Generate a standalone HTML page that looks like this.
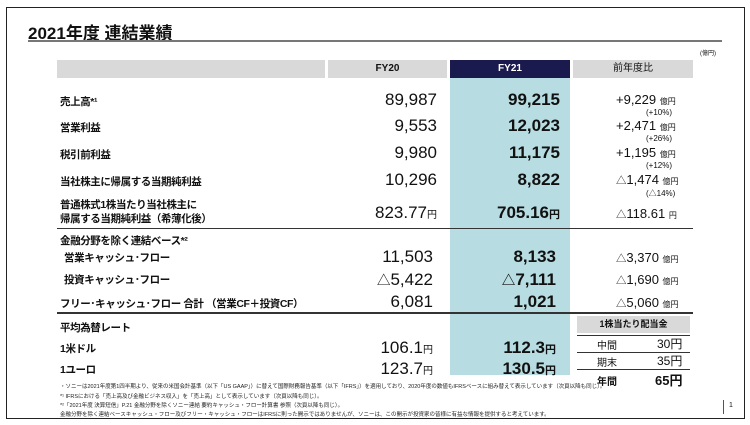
<!DOCTYPE html>
<html><head><meta charset="utf-8"><style>
body{margin:0;width:750px;height:425px;background:#fff;font-family:"Liberation Sans","Noto Sans CJK JP",sans-serif;position:relative;overflow:hidden;color:#111}
.a{position:absolute;white-space:nowrap}
.l{font-size:10.5px;font-weight:bold;left:60px;letter-spacing:-0.4px}
.v{font-size:17px;text-align:right}
.b{font-weight:bold}
.u{font-size:8px}
.t{font-size:0.8em}
.fn{font-size:5.5px;left:60px;color:#222}
</style></head><body>
<div class="a" style="left:6px;top:7px;width:737px;height:410px;border:1.5px solid #222"></div>
<div class="a" style="left:28px;top:19px;font-size:17px;font-weight:bold">2021年度 連結業績</div>
<div class="a" style="left:28px;top:40px;width:694px;height:2px;background:#777"></div>
<div class="a" style="left:700px;top:48px;font-size:6px">(億円)</div>
<div class="a" style="left:57px;top:60px;width:268px;height:18px;background:#d9d9d9"></div>
<div class="a" style="left:328px;top:60px;width:119px;height:18px;background:#d9d9d9;font-size:10px;font-weight:bold;text-align:center;line-height:18px">FY20</div>
<div class="a" style="left:450px;top:60px;width:120px;height:18px;background:#1b1a4e;color:#fff;font-size:10px;font-weight:bold;text-align:center;line-height:18px">FY21</div>
<div class="a" style="left:573px;top:60px;width:120px;height:18px;background:#d9d9d9;font-size:10px;text-align:center;line-height:18px">前年度比</div>
<div class="a" style="left:450px;top:78px;width:120px;height:297px;background:#b7dce1"></div>
<div class="a" style="left:57px;top:228px;width:636px;height:1px;background:#333"></div>
<div class="a" style="left:57px;top:312px;width:636px;height:1.5px;background:#333"></div>

<div class="a l" style="top:94px">売上高*¹</div>
<div class="a l" style="top:120px">営業利益</div>
<div class="a l" style="top:147px">税引前利益</div>
<div class="a l" style="top:174px">当社株主に帰属する当期純利益</div>
<div class="a l" style="top:198px;line-height:14px">普通株式1株当たり当社株主に<br>帰属する当期純利益（希薄化後）</div>
<div class="a l" style="top:233px">金融分野を除く連結ベース*²</div>
<div class="a l" style="top:250px;left:64px">営業キャッシュ･フロー</div>
<div class="a l" style="top:272px;left:64px">投資キャッシュ･フロー</div>
<div class="a l" style="top:296px">フリー･キャッシュ･フロー 合計 （営業CF＋投資CF）</div>
<div class="a l" style="top:320px">平均為替レート</div>
<div class="a l" style="top:341px">1米ドル</div>
<div class="a l" style="top:362px">1ユーロ</div>

<div class="a v" style="right:313px;top:90px">89,987</div>
<div class="a v b" style="right:190px;top:90px">99,215</div>
<div class="a v" style="right:313px;top:116px">9,553</div>
<div class="a v b" style="right:190px;top:116px">12,023</div>
<div class="a v" style="right:313px;top:143px">9,980</div>
<div class="a v b" style="right:190px;top:143px">11,175</div>
<div class="a v" style="right:313px;top:170px">10,296</div>
<div class="a v b" style="right:190px;top:170px">8,822</div>
<div class="a v" style="right:313px;top:203px">823.77<span style="font-size:10px">円</span></div>
<div class="a v b" style="right:190px;top:203px">705.16<span style="font-size:11px">円</span></div>
<div class="a v" style="right:317px;top:247px">11,503</div>
<div class="a v b" style="right:194px;top:247px">8,133</div>
<div class="a v" style="right:317px;top:269px"><span class="t">△</span>5,422</div>
<div class="a v b" style="right:194px;top:269px"><span class="t">△</span>7,111</div>
<div class="a v" style="right:317px;top:292px">6,081</div>
<div class="a v b" style="right:194px;top:292px">1,021</div>
<div class="a v" style="right:317px;top:338px">106.1<span style="font-size:10px">円</span></div>
<div class="a v b" style="right:194px;top:338px">112.3<span style="font-size:11px">円</span></div>
<div class="a v" style="right:317px;top:359px">123.7<span style="font-size:10px">円</span></div>
<div class="a v b" style="right:194px;top:359px">130.5<span style="font-size:11px">円</span></div>

<div class="a" style="left:616px;top:92px;font-size:13px">+9,229 <span class="u">億円</span></div>
<div class="a u" style="left:646px;top:108px">(+10%)</div>
<div class="a" style="left:616px;top:118px;font-size:13px">+2,471 <span class="u">億円</span></div>
<div class="a u" style="left:646px;top:134px">(+26%)</div>
<div class="a" style="left:616px;top:145px;font-size:13px">+1,195 <span class="u">億円</span></div>
<div class="a u" style="left:646px;top:161px">(+12%)</div>
<div class="a" style="left:616px;top:172px;font-size:13px"><span class="t">△</span>1,474 <span class="u">億円</span></div>
<div class="a u" style="left:646px;top:188px">(△14%)</div>
<div class="a" style="left:616px;top:206px;font-size:13px"><span class="t">△</span>118.61 <span class="u">円</span></div>
<div class="a" style="left:616px;top:250px;font-size:13px"><span class="t">△</span>3,370 <span class="u">億円</span></div>
<div class="a" style="left:616px;top:272px;font-size:13px"><span class="t">△</span>1,690 <span class="u">億円</span></div>
<div class="a" style="left:616px;top:295px;font-size:13px"><span class="t">△</span>5,060 <span class="u">億円</span></div>

<div class="a" style="left:577px;top:316px;width:113px;height:17px;background:#d9d9d9;font-size:9px;font-weight:bold;text-align:center;line-height:17px">1株当たり配当金</div>
<div class="a" style="left:577px;top:335px;width:113px;height:1px;background:#333"></div>
<div class="a" style="left:577px;top:352px;width:113px;height:1px;background:#333"></div>
<div class="a" style="left:577px;top:369px;width:113px;height:1px;background:#333"></div>
<div class="a" style="left:597px;top:337px;font-size:10px">中間</div>
<div class="a" style="left:657px;top:335px;font-size:12px">30円</div>
<div class="a" style="left:597px;top:354px;font-size:10px">期末</div>
<div class="a" style="left:657px;top:352px;font-size:12px">35円</div>
<div class="a" style="left:597px;top:373px;font-size:10px;font-weight:bold">年間</div>
<div class="a" style="left:655px;top:370px;font-size:13px;font-weight:bold">65円</div>

<div class="a fn" style="top:382px">・ソニーは2021年度第1四半期より、従来の米国会計基準（以下「US GAAP」）に替えて国際財務報告基準（以下「IFRS」）を適用しており、2020年度の数値もIFRSベースに組み替えて表示しています（次頁以降も同じ）。</div>
<div class="a fn" style="top:392px">*¹ IFRSにおける「売上高及び金融ビジネス収入」を「売上高」として表示しています（次頁以降も同じ）。</div>
<div class="a fn" style="top:401px">*²「2021年度 決算短信」P.21 金融分野を除くソニー連結 要約キャッシュ・フロー計算書 参照（次頁以降も同じ）。</div>
<div class="a fn" style="top:410px">金融分野を除く連結ベースキャッシュ・フロー及びフリー・キャッシュ・フローはIFRSに則った開示ではありませんが、ソニーは、この開示が投資家の皆様に有益な情報を提供すると考えています。</div>
<div class="a" style="left:723px;top:400px;width:1px;height:14px;background:#555"></div>
<div class="a" style="left:729px;top:402px;font-size:7px">1</div>
</body></html>
